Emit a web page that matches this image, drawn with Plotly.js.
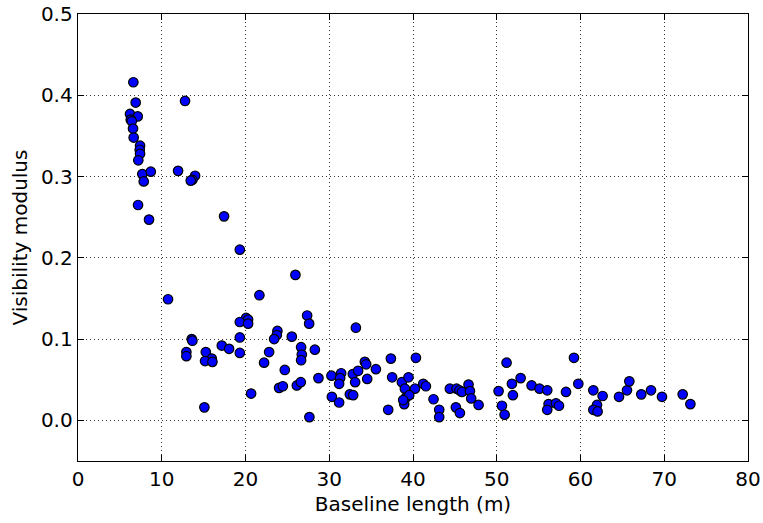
<!DOCTYPE html>
<html>
<head>
<meta charset="utf-8">
<script src="https://cdn.plot.ly/plotly-3.0.1.min.js"></script>
<style>
  html, body { margin: 0; padding: 0; background: #fff; }
  #chart { width: 763px; height: 523px; }
</style>
</head>
<body>
<div id="chart"></div>
<script>
// Baseline length (m) for each measured visibility
const baseline = [
  6.61, 6.89, 12.78, 6.21, 7.13, 6.30, 6.42, 6.57, 6.65, 7.41,
  7.37, 7.41, 7.20, 7.68, 8.69, 7.85, 11.95, 13.98, 13.66, 13.46,
  7.17, 8.48, 17.44, 19.32, 10.75, 21.66, 20.07, 20.31, 19.32, 20.31,
  19.32, 13.58, 13.66, 17.17, 18.04, 12.94, 12.94, 15.26, 19.32, 15.97,
  15.17, 16.05, 22.22, 22.82, 20.67, 15.09, 25.96, 27.36, 27.60, 33.18,
  23.81, 23.74, 23.42, 25.53, 26.64, 26.72, 26.64, 28.28, 24.69, 28.71,
  24.01, 24.46, 26.13, 26.60, 27.63, 30.26, 31.42, 31.30, 31.18, 30.31,
  31.18, 32.82, 33.45, 33.09, 32.46, 32.86, 34.25, 34.41, 35.57, 34.53,
  37.36, 40.35, 37.51, 38.67, 39.46, 39.03, 40.23, 41.22, 41.54, 39.15,
  39.55, 38.95, 38.83, 37.04, 42.45, 43.13, 43.13, 44.40, 45.20, 45.55,
  45.84, 46.63, 46.80, 46.95, 47.83, 45.12, 45.60, 50.22, 50.62, 50.94,
  51.17, 51.81, 51.93, 52.85, 54.16, 55.11, 56.03, 56.19, 56.03, 57.07,
  57.43, 58.27, 59.22, 59.74, 61.53, 62.64, 61.97, 61.53, 62.04, 64.60,
  65.55, 65.83, 67.26, 68.42, 69.73, 72.20, 73.12
];

// Visibility modulus at each baseline
const visibility = [
  0.416, 0.391, 0.393, 0.377, 0.374, 0.370, 0.368, 0.359, 0.348, 0.338,
  0.333, 0.328, 0.320, 0.303, 0.306, 0.294, 0.307, 0.301, 0.296, 0.295,
  0.265, 0.247, 0.251, 0.210, 0.149, 0.154, 0.126, 0.124, 0.121, 0.119,
  0.102, 0.100, 0.098, 0.092, 0.088, 0.084, 0.079, 0.084, 0.083, 0.076,
  0.073, 0.072, 0.071, 0.084, 0.033, 0.016, 0.179, 0.129, 0.119, 0.114,
  0.110, 0.105, 0.100, 0.103, 0.090, 0.081, 0.074, 0.087, 0.062, 0.052,
  0.040, 0.042, 0.043, 0.047, 0.004, 0.055, 0.058, 0.052, 0.045, 0.029,
  0.022, 0.057, 0.061, 0.047, 0.032, 0.031, 0.072, 0.069, 0.063, 0.051,
  0.076, 0.077, 0.053, 0.047, 0.053, 0.039, 0.039, 0.045, 0.042, 0.028,
  0.031, 0.020, 0.025, 0.013, 0.026, 0.013, 0.004, 0.039, 0.039, 0.037,
  0.035, 0.044, 0.036, 0.027, 0.019, 0.016, 0.009, 0.036, 0.018, 0.007,
  0.071, 0.045, 0.031, 0.052, 0.043, 0.039, 0.037, 0.020, 0.013, 0.021,
  0.018, 0.035, 0.077, 0.045, 0.037, 0.030, 0.019, 0.013, 0.011, 0.029,
  0.037, 0.048, 0.032, 0.037, 0.029, 0.032, 0.020
];

const xTicks = [0, 10, 20, 30, 40, 50, 60, 70, 80];
const yTicks = [0.0, 0.1, 0.2, 0.3, 0.4, 0.5];

const font = { family: 'DejaVu Sans, sans-serif', size: 20, color: '#000' };

const axisCommon = {
  showline: true,
  linecolor: '#000',
  linewidth: 1.3,
  mirror: 'allticks',
  ticks: 'inside',
  ticklen: 6,
  tickwidth: 1,
  tickcolor: '#000',
  showgrid: true,
  gridcolor: '#000',
  gridwidth: 0.8,
  griddash: '1px,3px',
  zeroline: false,
  tickfont: font
};

const trace = {
  type: 'scatter',
  mode: 'markers',
  x: baseline,
  y: visibility,
  marker: {
    symbol: 'circle',
    size: 9.5,
    color: '#0000ff',
    line: { color: '#000', width: 1.2 }
  },
  hoverinfo: 'x+y'
};

const layout = {
  width: 763,
  height: 523,
  margin: { l: 78, r: 15, t: 14, b: 62, pad: 0 },
  paper_bgcolor: '#fff',
  plot_bgcolor: '#fff',
  showlegend: false,
  font: font,
  xaxis: Object.assign({}, axisCommon, {
    range: [0, 80],
    tickvals: xTicks,
    ticktext: xTicks.map(String),
    title: { text: 'Baseline length (m)', font: font, standoff: 6 }
  }),
  yaxis: Object.assign({}, axisCommon, {
    range: [-0.05, 0.5],
    tickvals: yTicks,
    ticktext: yTicks.map(v => v.toFixed(1)),
    title: { text: 'Visibility modulus', font: font, standoff: 8 }
  })
};

Plotly.newPlot('chart', [trace], layout, { staticPlot: true, displayModeBar: false });
</script>
</body>
</html>
